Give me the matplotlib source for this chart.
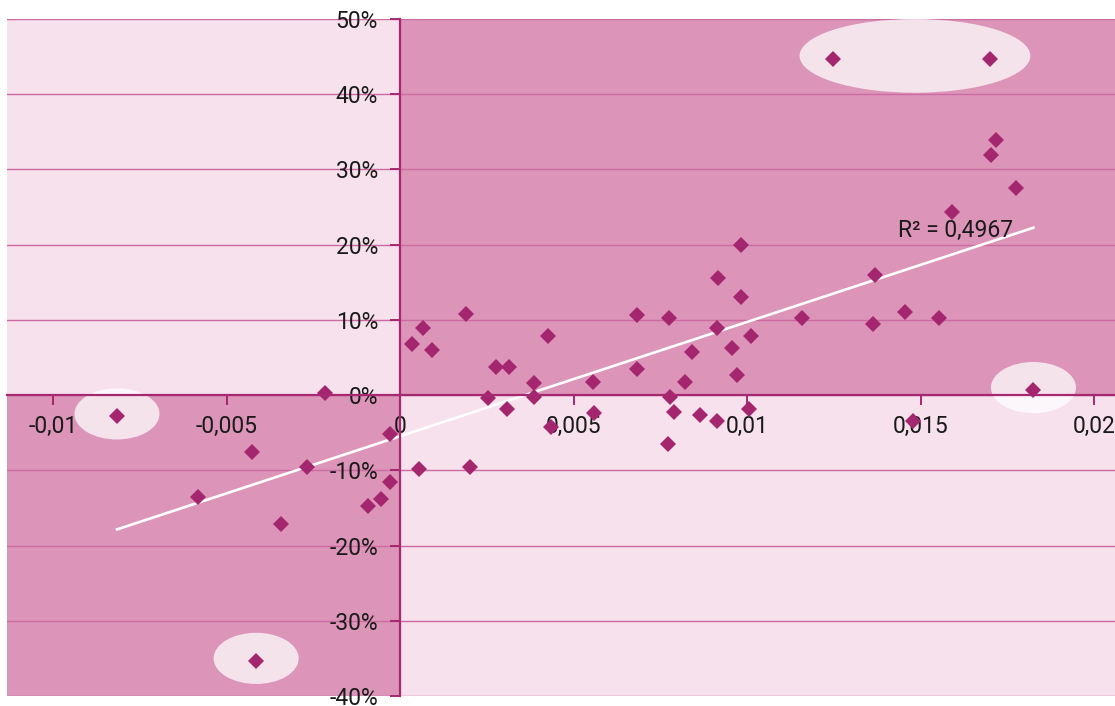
import numpy as np
import matplotlib
matplotlib.use("Agg")
import matplotlib.pyplot as plt
from matplotlib.patches import Rectangle, Ellipse
from matplotlib.ticker import FixedLocator, FixedFormatter

# ---- data ----
x_vals = [
    -0.00816, -0.00415, -0.00584, -0.00426, -0.00343, -0.00269, -0.00218,
    -0.00093, -0.00055, -0.00029, -0.00029,
    0.00054, 0.00200, 0.00190, 0.00065, 0.00035, 0.00093, 0.00427, 0.00277,
    0.00313, 0.00385, 0.00252, 0.00387, 0.00307, 0.00435, 0.00557, 0.00560,
    0.00983, 0.00917, 0.00983, 0.00682, 0.00775, 0.00912, 0.01012, 0.00955,
    0.00841, 0.00971, 0.00682, 0.00822, 0.00779, 0.00789, 0.00865, 0.00913,
    0.01005, 0.00771,
    0.01716, 0.01703, 0.01775, 0.01590, 0.01367, 0.01158, 0.01363, 0.01455,
    0.01553, 0.01825, 0.01477,
    0.01246, 0.01701,
]
y_vals = [
    -2.8, -35.3, -13.6, -7.5, -17.2, -9.5, 0.3,
    -14.8, -13.8, -11.6, -5.2,
    -9.8, -9.5, 10.8, 8.9, 6.8, 6.0, 7.9, 3.8,
    3.8, 1.6, -0.45, -0.27, -1.8, -4.2, 1.8, -2.4,
    19.9, 15.6, 13.1, 10.7, 10.3, 8.9, 7.9, 6.3,
    5.7, 2.7, 3.5, 1.8, -0.2, -2.3, -2.6, -3.4,
    -1.9, -6.5,
    33.9, 31.9, 27.5, 24.3, 16.0, 10.3, 9.5, 11.0,
    10.2, 0.7, -3.4,
    44.7, 44.7,
]
x_ticks = [-0.01, -0.005, 0, 0.005, 0.01, 0.015, 0.02]
x_tick_labels = ["-0,01", "-0,005", "0", "0,005", "0,01", "0,015", "0,02"]
y_ticks = [-40, -30, -20, -10, 0, 10, 20, 30, 40, 50]
y_tick_labels = ["-40%", "-30%", "-20%", "-10%", "0%", "10%", "20%", "30%", "40%", "50%"]
r2_label = "R² = 0,4967"
single_outliers = [0, 1, 54]      # indices of highlighted single points
pair_outliers = [56, 57]          # indices of highlighted pair

# ---- style ----
LIGHT = "#F7E1EC"
DARK = "#DC95B8"
GRID = "#CC6AA2"
AXIS = "#A62870"
MARK = "#A4266E"

plt.rcParams['font.family'] = ['Roboto', 'DejaVu Sans']

W, H = 1115, 706
fig = plt.figure(figsize=(W / 100, H / 100), dpi=100)
fig.patch.set_facecolor("white")
ax = fig.add_axes([7 / W, 10 / H, (W - 7) / W, 677 / H])

xmin, xmax = -0.01133, 0.0206
ymin, ymax = -40, 50
ax.set_xlim(xmin, xmax)
ax.set_ylim(ymin, ymax)
ax.set_facecolor("white")

# quadrant shading
ax.add_patch(Rectangle((xmin, 0), -xmin, ymax, facecolor=LIGHT, edgecolor="none", zorder=0))
ax.add_patch(Rectangle((0, 0), xmax, ymax, facecolor=DARK, edgecolor="none", zorder=0))
ax.add_patch(Rectangle((xmin, ymin), -xmin, -ymin, facecolor=DARK, edgecolor="none", zorder=0))
ax.add_patch(Rectangle((0, ymin), xmax, -ymin, facecolor=LIGHT, edgecolor="none", zorder=0))

# gridlines
for yv in y_ticks:
    ax.axhline(yv, color=GRID, lw=1.0, zorder=1)

# highlight ellipses
xs = np.array(x_vals)
ys = np.array(y_vals)
for i in single_outliers:
    ax.add_patch(Ellipse((xs[i], ys[i] + 0.3), 0.00245, 6.8, facecolor="white",
                         alpha=0.74, edgecolor="none", zorder=2))
px = xs[pair_outliers]
py = ys[pair_outliers]
ax.add_patch(Ellipse((px.mean() + 0.0001, py.mean() + 0.4), (px.max() - px.min()) + 0.0021, 9.8,
                     facecolor="white", alpha=0.74, edgecolor="none", zorder=2))

# trendline
coef = np.polyfit(xs, ys, 1)
tx = np.array([xs.min(), xs.max()])
ax.plot(tx, np.polyval(coef, tx), color="white", lw=1.9, zorder=3)

# points
ax.plot(xs, ys, linestyle="none", marker="D", markersize=8.6, color=MARK,
        markeredgewidth=0, zorder=4)

ax.text(0.01435, 21.9, r2_label, fontsize=16.5, color="#1a1a1a", va="center", ha="left", zorder=5)

# axes through origin
for s in ["top", "right"]:
    ax.spines[s].set_visible(False)
ax.spines["left"].set_position(("data", 0))
ax.spines["bottom"].set_position(("data", 0))
for s in ["left", "bottom"]:
    ax.spines[s].set_color(AXIS)
    ax.spines[s].set_linewidth(1.6)
    ax.spines[s].set_zorder(6)

ax.xaxis.set_major_locator(FixedLocator(x_ticks))
ax.xaxis.set_major_formatter(FixedFormatter(x_tick_labels))
ax.yaxis.set_major_locator(FixedLocator(y_ticks))
ax.yaxis.set_major_formatter(FixedFormatter(y_tick_labels))
ax.tick_params(axis="both", direction="out", length=7, width=1.4, color=AXIS,
               labelsize=16.5, labelcolor="#1a1a1a")
ax.tick_params(axis="x", pad=7)
ax.tick_params(axis="y", pad=9)
for t in ax.get_xticklabels() + ax.get_yticklabels():
    t.set_zorder(7)

fig.savefig("out.png", dpi=100)
